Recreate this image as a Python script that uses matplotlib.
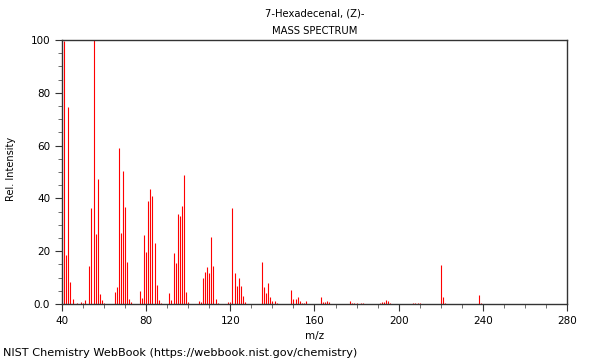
# =============================================================================
# 7-Hexadecenal, (Z)- : EI mass spectrum (NIST WebBook style)
# =============================================================================
import matplotlib

matplotlib.use("Agg")
import matplotlib.pyplot as plt
from matplotlib.ticker import MultipleLocator

# -----------------------------------------------------------------------------
# Peak data (m/z, relative intensity)
# -----------------------------------------------------------------------------
mz = [
    41, 42, 43, 44, 45, 47, 49, 50, 51,
    53, 54, 55, 56, 57, 58, 59, 60,
    65, 66, 67, 68, 69, 70, 71, 72, 73,
    77, 78, 79, 80, 81, 82, 83, 84, 85, 86, 87,
    91, 92, 93, 94, 95, 96, 97, 98, 99, 100,
    105, 106, 107, 108, 109, 110, 111, 112, 113, 114,
    119, 120, 121, 122, 123, 124, 125, 126, 127,
    135, 136, 137, 138, 139, 140, 141, 142,
    149, 150, 151, 152, 153, 154, 155, 156,
    163, 164, 165, 166, 167,
    177, 178, 179, 180, 182, 183,
    191, 192, 193, 194, 195, 196,
    207, 208, 209, 210,
    220, 221, 222,
    238, 239,
]
intensity = [
    99.6, 18.6, 74.5, 8.5, 1.8, 0.3, 0.9, 0.5, 1.5,
    14.5, 36.5, 100.0, 26.5, 47.3, 3.7, 1.5, 0.5,
    4.7, 6.6, 59.2, 26.9, 50.4, 36.7, 15.8, 1.8, 0.7,
    4.9, 2.4, 26.0, 19.7, 39.0, 43.4, 41.0, 23.0, 7.1, 1.4, 0.4,
    4.0, 1.5, 19.2, 15.4, 34.0, 33.5, 37.0, 48.9, 4.4, 0.7,
    1.2, 0.7, 9.7, 12.0, 14.1, 11.6, 25.4, 14.4, 1.7, 0.5,
    0.6, 0.6, 36.2, 11.6, 6.8, 9.7, 6.8, 3.0, 0.7,
    16.0, 6.6, 4.3, 7.8, 2.5, 1.0, 1.0, 0.5,
    5.2, 1.7, 1.7, 2.8, 1.1, 0.5, 0.5, 1.0,
    2.8, 0.7, 0.7, 1.3, 0.6,
    1.2, 0.5, 0.5, 0.4, 0.4, 0.4,
    0.5, 0.7, 0.9, 1.6, 1.0, 0.3,
    0.3, 0.3, 0.5, 0.5,
    14.8, 2.7, 0.4,
    3.3, 0.5,
]

x_ticks = [40, 80, 120, 160, 200, 240, 280]
y_ticks = [0, 20, 40, 60, 80, 100]
y_tick_labels = ["0.0", "20", "40", "60", "80", "100"]

# -----------------------------------------------------------------------------
# Plot
# -----------------------------------------------------------------------------
plt.rcParams["font.family"] = "DejaVu Sans"
plt.rcParams["font.size"] = 7.5

fig = plt.figure(figsize=(6, 3.6), dpi=100)
ax = fig.add_axes([0.1033, 0.1556, 0.8417, 0.7333])

ax.vlines(mz, 0, intensity, colors="red", linewidth=0.8)

ax.set_xlim(40, 280)
ax.set_ylim(0, 100)
ax.set_xticks(x_ticks)
ax.set_yticks(y_ticks)
ax.set_yticklabels(y_tick_labels)
ax.xaxis.set_minor_locator(MultipleLocator(10))
ax.yaxis.set_minor_locator(MultipleLocator(5))
ax.tick_params(which="major", direction="out", length=5, width=0.8, colors="#333333",
               labelcolor="black", labelsize=7.5)
ax.tick_params(which="minor", direction="out", length=3, width=0.6, colors="#555555")

for spine in ax.spines.values():
    spine.set_color("#333333")
    spine.set_linewidth(1.0)

ax.set_xlabel("m/z", fontsize=7.5, labelpad=4)
# y label sits a little above the axis centre in the reference
fig.text(0.018, 0.53, "Rel. Intensity", rotation=90, ha="center", va="center",
         fontsize=7.0)

fig.text(0.524, 0.962, "7-Hexadecenal, (Z)-", ha="center", va="center", fontsize=7.2)
fig.text(0.524, 0.915, "MASS SPECTRUM", ha="center", va="center", fontsize=7.2)
fig.text(0.005, 0.02, "NIST Chemistry WebBook (https://webbook.nist.gov/chemistry)",
         ha="left", va="center", fontsize=8.1)

fig.savefig("out.png", dpi=100)
